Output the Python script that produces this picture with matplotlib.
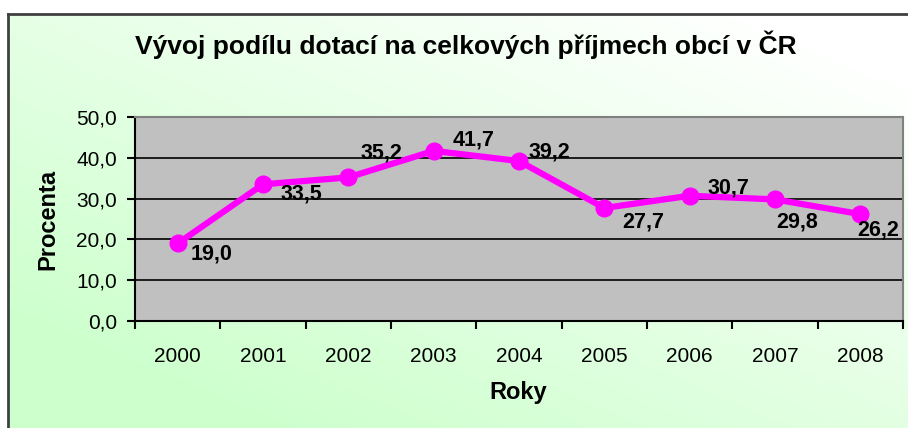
import numpy as np
import matplotlib
matplotlib.use("Agg")
import matplotlib.pyplot as plt
from matplotlib.lines import Line2D

years = ["2000", "2001", "2002", "2003", "2004", "2005", "2006", "2007", "2008"]
values = [19.0, 33.5, 35.2, 41.7, 39.2, 27.7, 30.7, 29.8, 26.2]
ytick_values = [0, 10, 20, 30, 40, 50]
title = "Vývoj podílu dotací na celkových příjmech obcí v ČR"
ylabel = "Procenta"
xlabel = "Roky"

# label offsets in pixels (dx, dy) for the data labels (style only)
label_offsets = [(13, -11), (18, -10), (12, 24), (19, 11), (10, 9),
                 (18, -14), (18, 8), (1, -23), (-3, -16)]

plt.rcParams['font.family'] = ['Liberation Sans', 'DejaVu Sans']

W, H = 908, 428
fig = plt.figure(figsize=(W / 100, H / 100), dpi=100)
fig.patch.set_facecolor("white")

# gradient background inside frame
fx0, fy1 = 8, 14  # frame left x, top y (pixels)
bg = fig.add_axes([fx0 / W, 0, 1 - fx0 / W, 1 - fy1 / H], zorder=-10)
nx, ny = 200, 100
xx, yy = np.meshgrid(np.linspace(0, 1, nx), np.linspace(0, 1, ny))  # yy=0 top
w = np.clip(0.4 + 0.65 * yy - 0.6 * xx + 0.1, 0, 1)
white = np.array([1.0, 1.0, 1.0])
green = np.array([0.80, 1.0, 0.80])
img = white[None, None, :] * (1 - w[..., None]) + green[None, None, :] * w[..., None]
bg.imshow(img, aspect="auto", extent=[0, 1, 0, 1], origin="upper")
bg.set_axis_off()

# frame lines
fig.add_artist(Line2D([fx0 / W, fx0 / W], [0, 1 - fy1 / H], transform=fig.transFigure,
                      color="#404040", lw=2))
fig.add_artist(Line2D([fx0 / W, 1], [1 - fy1 / H, 1 - fy1 / H], transform=fig.transFigure,
                      color="#404040", lw=2))

ax = fig.add_axes([135 / W, (H - 321) / H, 768 / W, 204 / H])
ax.set_facecolor("#c0c0c0")
x = np.arange(len(years))
ax.set_xlim(-0.5, len(years) - 0.5)
ax.set_ylim(0, 50)
for v in ytick_values[1:-1]:
    ax.axhline(v, color="black", lw=1.2, zorder=1)
ax.plot(x, values, color="#ff00ff", lw=4.5, marker="o", markersize=12, zorder=3)

for xi, v, (dx, dy) in zip(x, values, label_offsets):
    ax.annotate(f"{v:.1f}".replace(".", ","), (xi, v), xytext=(dx, dy),
                textcoords="offset pixels", ha="left", va="center",
                fontsize=15.5, fontweight="bold", color="black", zorder=4)

ax.set_yticks(ytick_values)
ax.set_yticklabels([f"{v:.1f}".replace(".", ",") for v in ytick_values], fontsize=15)
ax.set_xticks(x)
ax.set_xticklabels(years, fontsize=15)
ax.set_xticks(np.arange(-0.5, len(years)), minor=True)
ax.tick_params(axis="x", which="major", length=0, pad=19)
ax.tick_params(axis="x", which="minor", length=6, width=1.5, color="black")
ax.tick_params(axis="y", length=6, width=1.5, color="black", pad=7)

for s in ["top", "right"]:
    ax.spines[s].set_color("#808080")
    ax.spines[s].set_linewidth(1.5)
for s in ["left", "bottom"]:
    ax.spines[s].set_color("black")
    ax.spines[s].set_linewidth(1.5)

fig.text(466 / W, 1 - 45 / H, title, ha="center", va="center", fontsize=19,
         fontweight="bold")
fig.text(48 / W, 1 - 219 / H, ylabel, ha="center", va="center", rotation=90,
         fontsize=17, fontweight="bold")
fig.text(518 / W, 1 - 392 / H, xlabel, ha="center", va="center",
         fontsize=17, fontweight="bold")

fig.savefig("out.png", dpi=100)
